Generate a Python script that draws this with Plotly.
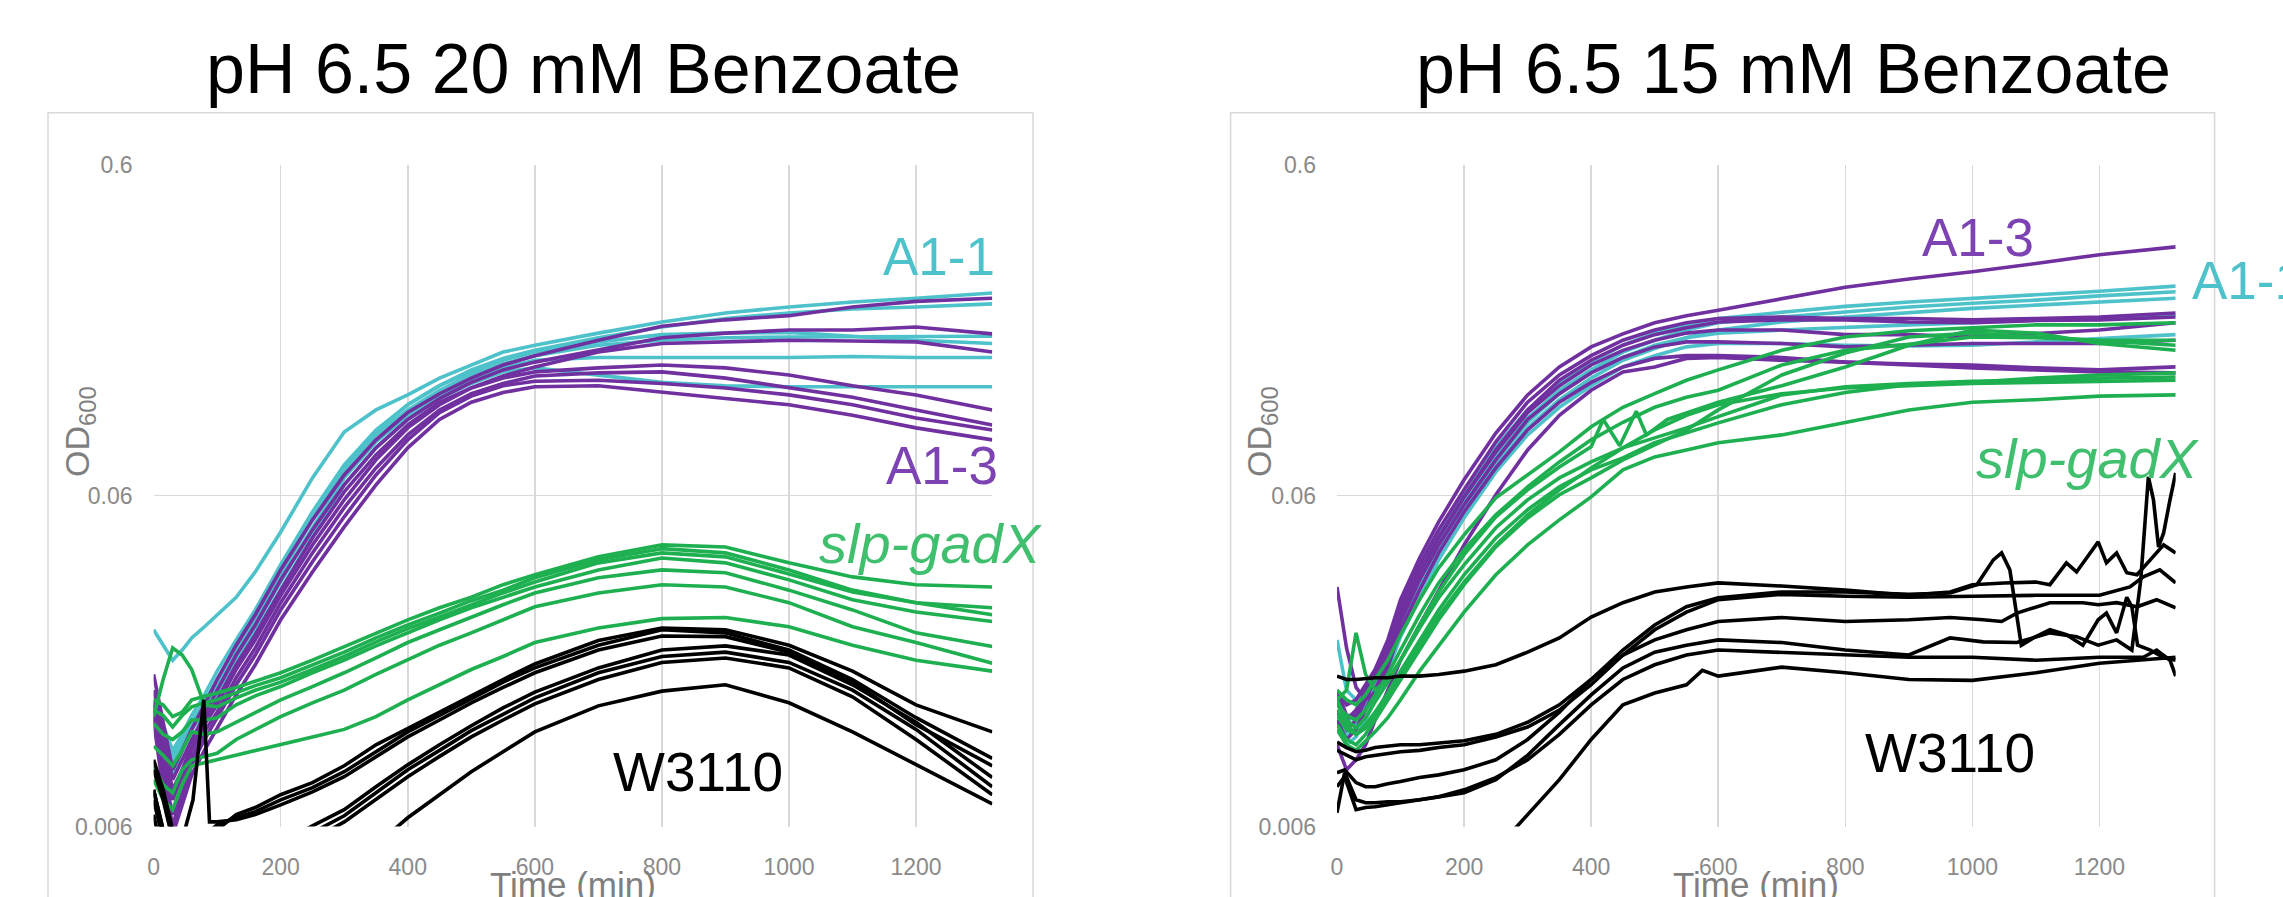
import math
import plotly.graph_objects as go

W, H = 2283, 897

# ---------------- shared sampling times (min) ----------------
time_min = [0, 15, 30, 45, 60, 80, 100, 130, 160, 200, 250, 300, 350, 400, 450,
            500, 550, 600, 700, 800, 900, 1000, 1100, 1200, 1320]

x_ticks = [0, 200, 400, 600, 800, 1000, 1200]
y_ticks = [0.006, 0.06, 0.6]
y_tick_text = ["0.006", "0.06", "0.6"]

# ================= LEFT: pH 6.5 20 mM Benzoate =================
left_a11 = [
    [0.0236, 0.0212, 0.0191, 0.0205, 0.0223, 0.0241, 0.0262, 0.0296, 0.0353, 0.0466, 0.0679, 0.0935, 0.109, 0.121, 0.136, 0.149, 0.163, 0.171, 0.186, 0.201, 0.214, 0.223, 0.231, 0.237, 0.246],
    [0.0145, 0.0122, 0.0102, 0.0114, 0.0130, 0.0150, 0.0177, 0.0220, 0.0271, 0.0371, 0.0536, 0.0744, 0.0948, 0.113, 0.129, 0.144, 0.156, 0.165, 0.180, 0.194, 0.206, 0.214, 0.220, 0.223, 0.228],
    [0.0140, 0.0114, 0.00922, 0.0106, 0.0122, 0.0140, 0.0161, 0.0202, 0.0253, 0.0346, 0.0507, 0.0718, 0.0916, 0.109, 0.125, 0.139, 0.150, 0.159, 0.171, 0.177, 0.180, 0.181, 0.181, 0.181, 0.182],
    [0.0135, 0.0114, 0.00955, 0.0106, 0.0119, 0.0137, 0.0155, 0.0194, 0.0244, 0.0329, 0.0480, 0.0679, 0.0873, 0.105, 0.120, 0.134, 0.146, 0.154, 0.157, 0.157, 0.157, 0.157, 0.158, 0.157, 0.157],
    [0.0130, 0.0106, 0.0086, 0.0102, 0.0118, 0.0133, 0.0150, 0.0185, 0.0233, 0.0311, 0.0457, 0.0647, 0.0837, 0.102, 0.118, 0.131, 0.142, 0.146, 0.139, 0.132, 0.129, 0.128, 0.128, 0.128, 0.128],
    [0.0140, 0.0118, 0.00985, 0.0110, 0.0124, 0.0143, 0.0167, 0.0208, 0.0262, 0.0353, 0.0514, 0.0718, 0.0935, 0.113, 0.129, 0.142, 0.154, 0.163, 0.175, 0.184, 0.186, 0.187, 0.182, 0.177, 0.173],
]

left_a13 = [
    [0.0173, 0.0126, 0.00891, 0.0102, 0.0118, 0.0140, 0.0167, 0.0212, 0.0262, 0.0358, 0.0507, 0.0693, 0.0885, 0.107, 0.122, 0.136, 0.149, 0.159, 0.177, 0.195, 0.204, 0.210, 0.223, 0.232, 0.237],
    [0.0155, 0.0114, 0.00832, 0.00955, 0.0110, 0.0130, 0.0155, 0.0198, 0.0244, 0.0334, 0.0473, 0.0647, 0.0837, 0.102, 0.118, 0.132, 0.144, 0.152, 0.165, 0.180, 0.186, 0.190, 0.190, 0.194, 0.185],
    [0.0145, 0.0106, 0.00775, 0.00891, 0.0106, 0.0126, 0.0145, 0.0185, 0.0228, 0.0311, 0.0447, 0.0616, 0.0797, 0.0982, 0.115, 0.127, 0.138, 0.147, 0.163, 0.173, 0.175, 0.177, 0.176, 0.175, 0.163],
    [0.0140, 0.00955, 0.00723, 0.0086, 0.0102, 0.0122, 0.0140, 0.0179, 0.0220, 0.0300, 0.0426, 0.0583, 0.0770, 0.0962, 0.113, 0.127, 0.136, 0.142, 0.146, 0.149, 0.146, 0.139, 0.129, 0.121, 0.109],
    [0.0135, 0.00891, 0.00652, 0.00804, 0.00965, 0.0116, 0.0133, 0.0169, 0.0208, 0.0285, 0.0403, 0.0552, 0.0728, 0.0916, 0.109, 0.122, 0.131, 0.138, 0.141, 0.142, 0.136, 0.127, 0.119, 0.109, 0.0982],
    [0.0130, 0.00832, 0.00607, 0.00749, 0.00922, 0.0110, 0.0128, 0.0161, 0.0198, 0.0271, 0.0379, 0.0518, 0.0693, 0.0885, 0.107, 0.120, 0.129, 0.133, 0.134, 0.131, 0.127, 0.121, 0.113, 0.103, 0.0948],
    [0.0126, 0.00775, 0.00567, 0.00698, 0.0086, 0.0102, 0.0119, 0.0150, 0.0185, 0.0253, 0.0353, 0.0483, 0.0647, 0.0837, 0.102, 0.115, 0.123, 0.128, 0.129, 0.123, 0.118, 0.113, 0.105, 0.0962, 0.0885],
]

left_slp_gadx = [
    [0.0145, 0.0140, 0.0129, 0.0133, 0.0145, 0.0148, 0.0152, 0.0158, 0.0165, 0.0175, 0.0191, 0.0210, 0.0231, 0.0253, 0.0275, 0.0296, 0.0323, 0.0346, 0.0392, 0.0426, 0.0420, 0.0376, 0.0341, 0.0323, 0.0318],
    [0.0135, 0.0130, 0.0120, 0.0130, 0.0138, 0.0142, 0.0145, 0.0152, 0.0160, 0.0169, 0.0185, 0.0202, 0.0223, 0.0244, 0.0265, 0.0289, 0.0311, 0.0339, 0.0384, 0.0415, 0.0403, 0.0358, 0.0311, 0.0285, 0.0262],
    [0.0129, 0.0167, 0.0208, 0.0198, 0.0179, 0.0140, 0.0138, 0.0147, 0.0155, 0.0164, 0.0179, 0.0196, 0.0217, 0.0238, 0.0258, 0.0281, 0.0305, 0.0329, 0.0376, 0.0403, 0.0392, 0.0348, 0.0307, 0.0285, 0.0275],
    [0.0123, 0.0114, 0.0110, 0.0116, 0.0126, 0.0126, 0.0128, 0.0140, 0.0149, 0.0159, 0.0175, 0.0191, 0.0211, 0.0231, 0.0253, 0.0275, 0.0296, 0.0318, 0.0358, 0.0389, 0.0376, 0.0334, 0.0291, 0.0267, 0.0250],
    [0.0105, 0.00985, 0.00916, 0.0102, 0.0116, 0.0114, 0.0116, 0.0124, 0.0133, 0.0145, 0.0159, 0.0175, 0.0194, 0.0216, 0.0236, 0.0258, 0.0281, 0.0305, 0.0339, 0.0358, 0.0351, 0.0311, 0.0271, 0.0231, 0.0210],
    [0.00916, 0.00804, 0.00759, 0.00891, 0.00955, 0.00975, 0.00999, 0.0110, 0.0118, 0.0129, 0.0142, 0.0155, 0.0173, 0.0191, 0.0212, 0.0231, 0.0253, 0.0277, 0.0305, 0.0323, 0.0318, 0.0285, 0.0241, 0.0216, 0.0187],
    [0.00832, 0.00723, 0.00675, 0.00804, 0.00916, 0.00935, 0.00955, 0.00985, 0.0102, 0.0106, 0.0112, 0.0118, 0.0129, 0.0145, 0.0161, 0.0179, 0.0196, 0.0216, 0.0239, 0.0255, 0.0257, 0.0241, 0.0212, 0.0191, 0.0177],
]

left_w3110 = [
    [0.00891, 0.00723, 0.00547, 0.00476, 0.00476, 0.00511, 0.00587, 0.00652, 0.00685, 0.00749, 0.00815, 0.00916, 0.0106, 0.0119, 0.0133, 0.0149, 0.0167, 0.0186, 0.0219, 0.0239, 0.0236, 0.0212, 0.0177, 0.0140, 0.0116],
    [0.00955, 0.00775, 0.00587, 0.00511, 0.00528, 0.00567, 0.00607, 0.00638, 0.00666, 0.00723, 0.00787, 0.00879, 0.0101, 0.0116, 0.0130, 0.0146, 0.0164, 0.0181, 0.0212, 0.0236, 0.0231, 0.0205, 0.0167, 0.0128, 0.00965],
    [0.00775, 0.00587, 0.00444, 0.00415, 0.00415, 0.00429, 0.00444, 0.00469, 0.00500, 0.00536, 0.00603, 0.00675, 0.00792, 0.00922, 0.0106, 0.0121, 0.0137, 0.0153, 0.0181, 0.0205, 0.0211, 0.0198, 0.0161, 0.0124, 0.00844],
    [0.00723, 0.00547, 0.00415, 0.00387, 0.00387, 0.00401, 0.00415, 0.00438, 0.00466, 0.00511, 0.00575, 0.00647, 0.00759, 0.00891, 0.0102, 0.0117, 0.0131, 0.0147, 0.0175, 0.0196, 0.0202, 0.0188, 0.0155, 0.0118, 0.00792],
    [0.00775, 0.00547, 0.00387, 0.00360, 0.00360, 0.00373, 0.00387, 0.00409, 0.00435, 0.00476, 0.00547, 0.00620, 0.00723, 0.00849, 0.00978, 0.0112, 0.0126, 0.0141, 0.0167, 0.0188, 0.0194, 0.0181, 0.0148, 0.0110, 0.00749],
    [0.00652, 0.00476, 0.00360, 0.00314, 0.00293, 0.00273, 0.00273, 0.00283, 0.00293, 0.00314, 0.00348, 0.00415, 0.00528, 0.00638, 0.00749, 0.00879, 0.0101, 0.0116, 0.0139, 0.0154, 0.0161, 0.0142, 0.0116, 0.00922, 0.00703],
]
left_w3110_spike_time = [0, 15, 30, 45, 62, 79, 88, 100, 130, 160, 200, 250, 300, 350, 400, 450, 500, 550, 600, 700, 800, 900, 1000, 1100, 1200, 1320]
left_w3110_spike = [0.00775, 0.00587, 0.00511, 0.00547, 0.00723, 0.0145, 0.0062, 0.0062, 0.00629, 0.00652, 0.00698, 0.00764, 0.00849, 0.00975, 0.0112, 0.0126, 0.0142, 0.0158, 0.0175, 0.0205, 0.0226, 0.0225, 0.0202, 0.0164, 0.0122, 0.00916]

# ================= RIGHT: pH 6.5 15 mM Benzoate =================
right_a13 = [
    [0.0155, 0.0140, 0.0145, 0.0161, 0.0179, 0.0220, 0.0291, 0.0389, 0.0500, 0.0670, 0.0928, 0.121, 0.147, 0.169, 0.185, 0.200, 0.210, 0.218, 0.237, 0.256, 0.271, 0.285, 0.302, 0.321, 0.339],
    [0.0145, 0.0126, 0.0135, 0.0155, 0.0177, 0.0212, 0.0279, 0.0371, 0.0473, 0.0625, 0.0873, 0.115, 0.139, 0.159, 0.177, 0.190, 0.200, 0.206, 0.208, 0.206, 0.206, 0.204, 0.206, 0.208, 0.214],
    [0.0135, 0.0118, 0.0126, 0.0145, 0.0167, 0.0202, 0.0262, 0.0351, 0.0447, 0.0595, 0.0825, 0.109, 0.134, 0.154, 0.171, 0.184, 0.193, 0.201, 0.204, 0.204, 0.201, 0.200, 0.203, 0.204, 0.208],
    [0.0155, 0.0130, 0.0130, 0.0148, 0.0169, 0.0205, 0.0267, 0.0353, 0.0450, 0.0595, 0.0814, 0.107, 0.129, 0.149, 0.165, 0.177, 0.186, 0.190, 0.190, 0.184, 0.184, 0.181, 0.186, 0.190, 0.200],
    [0.0126, 0.0110, 0.0118, 0.0135, 0.0155, 0.0191, 0.0250, 0.0334, 0.0426, 0.0563, 0.0770, 0.102, 0.122, 0.141, 0.157, 0.169, 0.175, 0.175, 0.173, 0.169, 0.171, 0.173, 0.173, 0.173, 0.177],
    [0.0318, 0.0208, 0.0158, 0.0145, 0.0153, 0.0182, 0.0236, 0.0311, 0.0403, 0.0536, 0.0728, 0.0948, 0.115, 0.132, 0.147, 0.156, 0.159, 0.159, 0.157, 0.152, 0.150, 0.149, 0.146, 0.144, 0.147],
    [0.0106, 0.00891, 0.00955, 0.0106, 0.0126, 0.0155, 0.0191, 0.0244, 0.0311, 0.0426, 0.0604, 0.0825, 0.105, 0.125, 0.142, 0.147, 0.156, 0.157, 0.154, 0.152, 0.149, 0.146, 0.144, 0.142, 0.141],
]

right_a11 = [
    [0.0220, 0.0155, 0.0145, 0.0155, 0.0179, 0.0212, 0.0271, 0.0358, 0.0457, 0.0612, 0.0843, 0.109, 0.132, 0.152, 0.171, 0.186, 0.197, 0.206, 0.215, 0.224, 0.231, 0.237, 0.242, 0.249, 0.258],
    [0.0145, 0.0126, 0.0128, 0.0145, 0.0167, 0.0201, 0.0257, 0.0339, 0.0432, 0.0583, 0.0797, 0.103, 0.125, 0.144, 0.163, 0.177, 0.190, 0.200, 0.208, 0.215, 0.223, 0.229, 0.234, 0.241, 0.248],
    [0.0135, 0.0114, 0.0119, 0.0135, 0.0155, 0.0188, 0.0239, 0.0316, 0.0403, 0.0544, 0.0744, 0.0962, 0.117, 0.136, 0.154, 0.167, 0.180, 0.190, 0.201, 0.208, 0.215, 0.221, 0.226, 0.231, 0.237],
    [0.0155, 0.0122, 0.0122, 0.0140, 0.0161, 0.0194, 0.0250, 0.0329, 0.0420, 0.0563, 0.0770, 0.100, 0.122, 0.142, 0.157, 0.171, 0.180, 0.186, 0.190, 0.194, 0.197, 0.200, 0.204, 0.206, 0.211],
    [0.0126, 0.0106, 0.0112, 0.0126, 0.0145, 0.0177, 0.0225, 0.0296, 0.0384, 0.0514, 0.0708, 0.0916, 0.111, 0.129, 0.147, 0.159, 0.169, 0.173, 0.173, 0.171, 0.170, 0.171, 0.175, 0.180, 0.184],
]

right_slp_gadx = [
    [0.0155, 0.0145, 0.0140, 0.0150, 0.0167, 0.0191, 0.0228, 0.0291, 0.0363, 0.0457, 0.0591, 0.0693, 0.0814, 0.0969, 0.111, 0.122, 0.134, 0.144, 0.165, 0.181, 0.189, 0.193, 0.197, 0.197, 0.200],
    [0.0140, 0.0130, 0.0126, 0.0135, 0.0150, 0.0173, 0.0205, 0.0262, 0.0327, 0.0412, 0.0525, 0.0638, 0.0759, 0.0885, 0.100, 0.111, 0.119, 0.125, 0.149, 0.165, 0.172, 0.181, 0.180, 0.177, 0.177],
    [0.0130, 0.0118, 0.0114, 0.0122, 0.0133, 0.0152, 0.0177, 0.0220, 0.0271, 0.0346, 0.0447, 0.0544, 0.0638, 0.0718, 0.0781, 0.0867, 0.0928, 0.0996, 0.113, 0.123, 0.130, 0.132, 0.136, 0.139, 0.141],
    [0.0145, 0.0126, 0.0119, 0.0128, 0.0143, 0.0164, 0.0191, 0.0239, 0.0295, 0.0371, 0.0480, 0.0583, 0.0679, 0.0759, 0.0837, 0.0897, 0.0962, 0.104, 0.121, 0.128, 0.131, 0.133, 0.134, 0.136, 0.137],
    [0.0122, 0.0110, 0.0106, 0.0114, 0.0126, 0.0145, 0.0167, 0.0205, 0.0253, 0.0323, 0.0420, 0.0514, 0.0604, 0.0679, 0.0770, 0.0855, 0.0948, 0.109, 0.139, 0.162, 0.181, 0.186, 0.181, 0.177, 0.171],
    [0.0118, 0.0106, 0.0102, 0.0109, 0.0116, 0.0128, 0.0145, 0.0177, 0.0212, 0.0267, 0.0346, 0.0426, 0.0507, 0.0595, 0.0718, 0.0786, 0.0825, 0.0867, 0.0916, 0.100, 0.109, 0.115, 0.117, 0.120, 0.121],
    [0.0135, 0.0122, 0.0114, 0.0119, 0.0130, 0.0148, 0.0172, 0.0211, 0.0260, 0.0329, 0.0426, 0.0525, 0.0625, 0.0728, 0.0837, 0.0948, 0.105, 0.113, 0.122, 0.127, 0.129, 0.131, 0.132, 0.133, 0.134],
]
right_slp_gadx_spiky_time = [0, 15, 30, 45, 60, 80, 100, 130, 160, 200, 250, 300, 350, 400, 419, 445, 471, 487, 520, 600, 700, 800, 900, 1000, 1100, 1200, 1320]
right_slp_gadx_spiky = [0.0145, 0.0155, 0.0231, 0.0173, 0.0155, 0.0167, 0.0191, 0.0244, 0.0307, 0.0398, 0.0518, 0.0625, 0.0733, 0.0843, 0.102, 0.0849, 0.108, 0.0916, 0.102, 0.115, 0.129, 0.147, 0.171, 0.190, 0.186, 0.173, 0.165]

right_w3110_times = [
    [0, 15, 30, 45, 60, 80, 100, 130, 160, 200, 250, 300, 350, 400, 450, 500, 550, 600, 700, 800, 900, 965, 1000, 1050, 1100, 1122, 1148, 1164, 1198, 1211, 1227, 1243, 1259, 1280, 1301, 1320],
    [0, 15, 30, 45, 60, 80, 100, 130, 160, 200, 250, 300, 350, 400, 450, 500, 550, 600, 700, 800, 900, 965, 1007, 1033, 1046, 1059, 1077, 1096, 1122, 1148, 1174, 1198, 1211, 1227, 1243, 1251, 1260, 1280, 1300, 1320],
    [0, 15, 30, 45, 60, 80, 100, 130, 160, 200, 250, 300, 350, 400, 450, 500, 550, 600, 700, 800, 900, 1000, 1100, 1200, 1248, 1269, 1295, 1320],
    [0, 12, 30, 45, 60, 80, 100, 130, 160, 200, 250, 300, 350, 400, 450, 500, 550, 600, 700, 800, 900, 965, 1017, 1046, 1070, 1122, 1174, 1198, 1227, 1259, 1290, 1320],
    [0, 12, 30, 45, 60, 80, 100, 130, 160, 200, 250, 300, 350, 400, 450, 500, 550, 600, 700, 800, 900, 965, 1017, 1070, 1122, 1164, 1198, 1227, 1251, 1265, 1277, 1285, 1293, 1301, 1311, 1320],
    [0, 12, 30, 45, 60, 80, 100, 130, 160, 200, 250, 300, 350, 400, 450, 500, 550, 600, 700, 800, 900, 1000, 1100, 1200, 1269, 1290, 1311, 1320],
    [0, 100, 200, 250, 300, 350, 400, 450, 500, 550, 575, 600, 700, 800, 900, 1000, 1100, 1200, 1320],
]
right_w3110 = [
    [0.0171, 0.0167, 0.0167, 0.0168, 0.0169, 0.0169, 0.0171, 0.0171, 0.0173, 0.0177, 0.0185, 0.0202, 0.0223, 0.0258, 0.0285, 0.0307, 0.0318, 0.0327, 0.0320, 0.0311, 0.0300, 0.0307, 0.0323, 0.0327, 0.0329, 0.0323, 0.0376, 0.0353, 0.0435, 0.0376, 0.0403, 0.0351, 0.0346, 0.0384, 0.0426, 0.0403],
    [0.0108, 0.0104, 0.0101, 0.0102, 0.0104, 0.0105, 0.0106, 0.0106, 0.0107, 0.0109, 0.0114, 0.0124, 0.0140, 0.0167, 0.0205, 0.0244, 0.0277, 0.0295, 0.0307, 0.0307, 0.0302, 0.0305, 0.0323, 0.0384, 0.0403, 0.0358, 0.0212, 0.0223, 0.0236, 0.0228, 0.0212, 0.0253, 0.0265, 0.0231, 0.0296, 0.0277, 0.0212, 0.0205, 0.0195, 0.0191],
    [0.0102, 0.00985, 0.00955, 0.00975, 0.00985, 0.00999, 0.0101, 0.0102, 0.0104, 0.0106, 0.0112, 0.0120, 0.0135, 0.0161, 0.0198, 0.0236, 0.0267, 0.0291, 0.0302, 0.0298, 0.0296, 0.0298, 0.0300, 0.0300, 0.0318, 0.0341, 0.0358, 0.0327],
    [0.00873, 0.00891, 0.00815, 0.00792, 0.00792, 0.00809, 0.00821, 0.00844, 0.0086, 0.00891, 0.00955, 0.0110, 0.0133, 0.0167, 0.0198, 0.0220, 0.0236, 0.0250, 0.0257, 0.0250, 0.0253, 0.0257, 0.0253, 0.0250, 0.0265, 0.0285, 0.0285, 0.0281, 0.0285, 0.0277, 0.0291, 0.0275],
    [0.00661, 0.00873, 0.00723, 0.00708, 0.00708, 0.00713, 0.00713, 0.00723, 0.00738, 0.00759, 0.00832, 0.00985, 0.0122, 0.0150, 0.0181, 0.0202, 0.0212, 0.0220, 0.0216, 0.0205, 0.0198, 0.0223, 0.0217, 0.0216, 0.0231, 0.0225, 0.0212, 0.0220, 0.0205, 0.0334, 0.0684, 0.0583, 0.0420, 0.0463, 0.0583, 0.0703],
    [0.00792, 0.00849, 0.00675, 0.00685, 0.00689, 0.00698, 0.00708, 0.00723, 0.00738, 0.00775, 0.00844, 0.00955, 0.0114, 0.0140, 0.0167, 0.0185, 0.0198, 0.0205, 0.0202, 0.0198, 0.0195, 0.0195, 0.0191, 0.0195, 0.0195, 0.0205, 0.0191, 0.0171],
    [0.0036, 0.0036, 0.00415, 0.00511, 0.00652, 0.00832, 0.0110, 0.0140, 0.0152, 0.0161, 0.0178, 0.0171, 0.0182, 0.0175, 0.0167, 0.0166, 0.0175, 0.0187, 0.0195],
]

# ---------------- styling ----------------
CYAN = "#4EC2CA"
PURPLE = "#7030A0"
GREEN = "#1EB050"
BLACK = "#000000"
CYAN_TXT = "#4EC2CA"
PURPLE_TXT = "#7D43B3"
GREEN_TXT = "#40BF6E"
GRID = "#D9D9D9"
TICK_GRAY = "#8A8A8A"
FONT = "Liberation Sans, Arial, sans-serif"
LW = 3.6

fig = go.Figure()


def add_lines(series, times, color, xa, ya):
    for vals in series:
        fig.add_trace(go.Scatter(x=times, y=vals, mode="lines",
                                 line=dict(color=color, width=LW),
                                 xaxis=xa, yaxis=ya, showlegend=False,
                                 hoverinfo="skip"))


# left panel (x, y)
add_lines(left_a11, time_min, CYAN, "x", "y")
add_lines(left_a13, time_min, PURPLE, "x", "y")
add_lines(left_slp_gadx, time_min, GREEN, "x", "y")
add_lines(left_w3110, time_min, BLACK, "x", "y")
add_lines([left_w3110_spike], left_w3110_spike_time, BLACK, "x", "y")

# right panel (x2, y2)
add_lines(right_a11, time_min, CYAN, "x2", "y2")
add_lines(right_a13, time_min, PURPLE, "x2", "y2")
add_lines(right_slp_gadx, time_min, GREEN, "x2", "y2")
add_lines([right_slp_gadx_spiky], right_slp_gadx_spiky_time, GREEN, "x2", "y2")
for tt, vv in zip(right_w3110_times, right_w3110):
    add_lines([vv], tt, BLACK, "x2", "y2")


def px(xp):
    return xp / W


def py(yp):
    return 1 - yp / H


xaxis_common = dict(range=[0, 1320], tickvals=x_ticks, showgrid=True, gridcolor=GRID,
                    gridwidth=1.5, zeroline=False, showline=False, ticks="",
                    tickfont=dict(family=FONT, size=23, color=TICK_GRAY),
                    ticklabelstandoff=24, fixedrange=True)
yaxis_common = dict(type="log", range=[math.log10(0.006), math.log10(0.6)],
                    tickvals=y_ticks, ticktext=y_tick_text, showgrid=True,
                    gridcolor=GRID, gridwidth=1.5, zeroline=False, showline=False,
                    ticks="", tickfont=dict(family=FONT, size=23, color=TICK_GRAY),
                    ticklabelstandoff=20, fixedrange=True)

y_dom = [py(826.6), py(164.8)]
fig.update_layout(
    width=W, height=H, margin=dict(l=0, r=0, t=0, b=0, pad=0, autoexpand=False),
    paper_bgcolor="white", plot_bgcolor="white", showlegend=False,
    xaxis=dict(domain=[px(153.6), px(992.3)], anchor="y", **xaxis_common),
    yaxis=dict(domain=y_dom, anchor="x", **yaxis_common),
    xaxis2=dict(domain=[px(1337.0), px(2175.7)], anchor="y2", **xaxis_common),
    yaxis2=dict(domain=y_dom, anchor="x2", **yaxis_common),
)

# chart-area borders
for x0, x1 in [(48, 1033), (1230.6, 2214.6)]:
    fig.add_shape(type="rect", xref="paper", yref="paper",
                  x0=px(x0), x1=px(x1), y0=-0.1, y1=py(112.7),
                  line=dict(color=GRID, width=1.5), fillcolor="rgba(0,0,0,0)",
                  layer="below")


def label(text, xp, yp, size, color, xanchor="center", angle=0):
    fig.add_annotation(text=text, x=px(xp), y=py(yp), xref="paper", yref="paper",
                       xanchor=xanchor, yanchor="middle", showarrow=False,
                       textangle=angle, font=dict(family=FONT, size=size, color=color))


# titles
label("pH 6.5 20 mM Benzoate", 583, 69.5, 70, "black")
label("pH 6.5 15 mM Benzoate", 1793, 69.5, 70, "black")
# axis titles
label("Time (min)", 573, 884.6, 35, "#7F7F7F")
label("Time (min)", 1756, 884.6, 35, "#7F7F7F")
label("OD<sub>600</sub>", 79, 432, 34, "#7F7F7F", angle=-90)
label("OD<sub>600</sub>", 1261, 432, 34, "#7F7F7F", angle=-90)
# strain labels - left
label("A1-1", 939, 256, 53, CYAN_TXT)
label("A1-3", 942, 466, 53, PURPLE_TXT)
label("<i>slp-gadX</i>", 931, 543, 56, GREEN_TXT)
label("W3110", 698, 772, 55, "black")
# strain labels - right
label("A1-3", 1978, 237, 53, PURPLE_TXT)
label("A1-1", 2190, 280, 53, CYAN_TXT, xanchor="left")
label("<i>slp-gadX</i>", 2088, 458, 56, GREEN_TXT)
label("W3110", 1950, 753, 55, "black")

fig.write_html(
    "out.html",
    config={"displayModeBar": False, "staticPlot": True},
    post_script="document.body.style.margin='0px';document.body.style.padding='0px';",
)
